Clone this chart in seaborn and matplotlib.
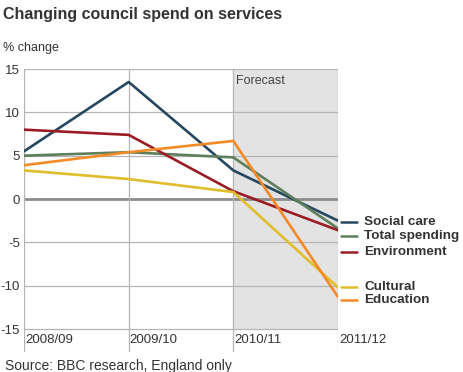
import pandas as pd
import matplotlib.pyplot as plt
import seaborn as sns

# Data
years = ['2008/09', '2009/10', '2010/11', '2011/12']
social_care = [5.5, 13.5, 3.3, -2.5]
total_spending = [5.0, 5.4, 4.8, -3.4]
environment = [8.0, 7.4, 0.9, -3.6]
cultural = [3.3, 2.3, 0.8, -10.2]
education = [3.9, 5.4, 6.7, -11.3]

series = {
    'Social care': social_care,
    'Total spending': total_spending,
    'Environment': environment,
    'Cultural': cultural,
    'Education': education,
}
colors = {
    'Social care': '#25475f',
    'Total spending': '#5e7f5c',
    'Environment': '#9a1d26',
    'Cultural': '#dfbd2c',
    'Education': '#f28a28',
}
# where the legend labels sit (y in data units)
label_y = {
    'Social care': -2.6,
    'Total spending': -4.3,
    'Environment': -6.1,
    'Cultural': -10.1,
    'Education': -11.7,
}

rows = []
for name, vals in series.items():
    for i, v in enumerate(vals):
        rows.append({'x': i, 'year': years[i], 'value': v, 'series': name})
df = pd.DataFrame(rows)

sns.set_style('white')
plt.rcParams['font.family'] = ['Liberation Sans', 'DejaVu Sans']
text_col = '#333333'

fig = plt.figure(figsize=(4.64, 3.72), dpi=100)
ax = fig.add_axes([24 / 464, 1 - 352 / 372, (338 - 24) / 464, (352 - 69) / 372])

ymin, ymax = -17.65, 15
ax.set_xlim(0, 3)
ax.set_ylim(ymin, ymax)

# forecast shading
ax.fill_between([2, 3], -15, 15, color='#e3e3e3', zorder=0, lw=0)
ax.text(2.03, 14.3, 'Forecast', fontsize=9, color='#444444', va='top', ha='left')

# grid
for yv in [-15, -10, -5, 5, 10, 15]:
    ax.axhline(yv, color='#b5b5b5', lw=0.9, zorder=1)
ax.axhline(0, color='#8c8c8c', lw=2, zorder=1)
for xv in range(4):
    ax.axvline(xv, color='#b5b5b5', lw=0.9, zorder=1)

sns.lineplot(data=df, x='x', y='value', hue='series', palette=colors,
             lw=1.9, ax=ax, legend=False, zorder=3)

for s in ax.spines.values():
    s.set_visible(False)
ax.set_xticks([])
ax.set_yticks([-15, -10, -5, 0, 5, 10, 15])
ax.set_yticklabels(['-15', '-10', '-5', '0', '5', '10', '15'], fontsize=9.5, color=text_col)
ax.tick_params(axis='y', length=0, pad=3)
ax.set_xlabel('')
ax.set_ylabel('')

for i, yr in enumerate(years):
    ax.text(i + 0.01, -16.3, yr, fontsize=9.5, color=text_col, va='center', ha='left')

# legend labels on the right
for name in series:
    yv = label_y[name]
    ax.plot([3.025, 3.185], [yv, yv], color=colors[name], lw=1.8, clip_on=False)
    ax.text(3.25, yv, name, fontsize=9.7, fontweight='bold', color=text_col,
            va='center', ha='left', clip_on=False)

fig.text(3 / 464, 1 - 15 / 372, 'Changing council spend on services', fontsize=11.5,
         fontweight='bold', color=text_col, va='center', ha='left')
fig.text(3 / 464, 1 - 48 / 372, '% change', fontsize=9, color=text_col, va='center', ha='left')
fig.text(5 / 464, 1 - 366 / 372, 'Source: BBC research, England only', fontsize=10,
         color=text_col, va='center', ha='left')

fig.savefig('out.png', dpi=100)
